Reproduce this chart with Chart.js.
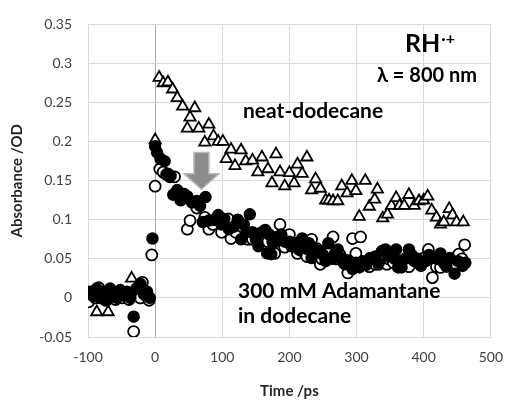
<!DOCTYPE html>
<html>
<head>
<meta charset="utf-8">
<script src="https://cdn.jsdelivr.net/npm/chart.js@4/dist/chart.umd.min.js"></script>
<style>
  html, body { margin: 0; padding: 0; background: #ffffff; }
  #wrap { width: 515px; height: 400px; }
</style>
</head>
<body>
<div id="wrap"><canvas id="c" width="515" height="400"></canvas></div>
<script>
// ---------- data ----------
// neat dodecane (open triangles)
const neatTime = [-87,-70,-55,-45,-35,-25,-14,0,
  6,12,19,26,33,41,48,52,59,65,74,80,87,94,101,106,113,119,128,135,145,153,159,168,174,180,186,193,200,207,212,219,226,233,239,246,254,259,265,272,278,286,293,299,304,313,319,327,331,339,346,352,359,364,371,378,386,393,400,406,412,419,425,430,438,443,449,459];
const neatAbs = [-0.018,-0.018,0.002,-0.002,0.025,0.003,0.011,0.202,
  0.282,0.275,0.276,0.267,0.256,0.245,0.217,0.231,0.243,0.217,0.199,0.222,0.207,0.2,0.2,0.178,0.19,0.169,0.189,0.175,0.176,0.161,0.18,0.165,0.147,0.184,0.161,0.143,0.16,0.147,0.171,0.159,0.18,0.138,0.152,0.14,0.125,0.125,0.124,0.124,0.143,0.134,0.15,0.137,0.104,0.15,0.117,0.126,0.139,0.102,0.107,0.118,0.128,0.118,0.118,0.132,0.118,0.124,0.125,0.13,0.112,0.103,0.094,0.097,0.114,0.106,0.097,0.097];

// 300 mM adamantane in dodecane, run 1 (filled circles)
const adaFilledTime = [-97,-92,-87,-82,-77,-72,-67,-62,-57,-52,-47,-42,-37,-32,-28,-22,-17,-12,-8,-4,
  0,3,8,14,19,23,27,33,38,43,48,55,62,67,71,75,80,88,94,99,103,110,117,123,128,132,136,141,145,150,154,159,164,167,170,173,176,181,188,193,200,203,208,214,219,225,229,233,238,242,246,250,254,258,264,268,272,275,280,283,288,294,299,304,309,314,320,323,328,333,338,343,348,352,357,359,362,367,372,378,382,386,391,396,403,408,414,420,425,430,434,439,446,451,458,462];
const adaFilledAbs = [0.008,0.002,0.012,0.0,0.008,-0.003,0.012,0.005,0.0,0.01,0.003,0.008,0.0,-0.024,0.012,0.018,0.005,0.008,0.0,0.076,
  0.194,0.186,0.178,0.175,0.159,0.156,0.132,0.138,0.125,0.133,0.13,0.122,0.124,0.118,0.097,0.129,0.099,0.1,0.106,0.094,0.101,0.088,0.091,0.1,0.075,0.094,0.084,0.107,0.084,0.075,0.066,0.084,0.087,0.057,0.081,0.056,0.07,0.078,0.081,0.072,0.072,0.066,0.07,0.062,0.076,0.063,0.07,0.051,0.062,0.06,0.06,0.055,0.047,0.07,0.05,0.057,0.062,0.051,0.05,0.043,0.048,0.037,0.045,0.039,0.047,0.042,0.051,0.05,0.053,0.045,0.06,0.062,0.053,0.057,0.05,0.062,0.039,0.039,0.05,0.062,0.055,0.047,0.05,0.041,0.047,0.055,0.052,0.05,0.057,0.045,0.04,0.051,0.031,0.047,0.041,0.045];

// 300 mM adamantane in dodecane, run 2 (open circles)
const adaOpenTime = [-99,-94,-89,-84,-79,-74,-69,-64,-59,-54,-49,-44,-39,-32,-27,-22,-19,-14,-9,-5,
  0,7,12,17,22,29,48,52,62,74,80,86,92,99,104,109,113,120,125,131,138,145,152,159,168,175,178,186,193,200,206,212,219,226,233,241,246,248,255,260,265,270,275,281,287,294,299,306,312,319,328,333,340,345,348,355,364,371,378,384,392,400,407,413,419,425,432,440,446,452,457,461];
const adaOpenAbs = [-0.005,0.005,0.0,0.013,0.002,-0.003,0.008,0.003,-0.002,0.004,0.0,0.005,-0.002,-0.043,0.004,0.0,0.02,0.003,-0.003,0.055,
  0.143,0.165,0.161,0.158,0.155,0.155,0.088,0.099,0.115,0.103,0.088,0.094,0.1,0.084,0.095,0.101,0.076,0.084,0.097,0.09,0.075,0.075,0.08,0.078,0.072,0.072,0.057,0.094,0.065,0.081,0.068,0.057,0.06,0.053,0.075,0.063,0.043,0.05,0.055,0.06,0.078,0.05,0.056,0.045,0.032,0.076,0.057,0.078,0.045,0.04,0.043,0.043,0.05,0.043,0.05,0.045,0.047,0.047,0.04,0.051,0.045,0.051,0.062,0.026,0.04,0.039,0.045,0.05,0.043,0.056,0.05,0.068];

// axis ticks
const xTickValues = [-100, 0, 100, 200, 300, 400, 500];
const xTickLabels = ['-100', '0', '100', '200', '300', '400', '500'];
const yTickValues = [-0.05, 0, 0.05, 0.1, 0.15, 0.2, 0.25, 0.3, 0.35];
const yTickLabels = ['-0.05', '0', '0.05', '0.1', '0.15', '0.2', '0.25', '0.3', '0.35'];

// texts
const xTitle = 'Time /ps';
const yTitle = 'Absorbance /OD';
const neatLabel = 'neat-dodecane';
const adaLabel1 = '300 mM Adamantane';
const adaLabel2 = 'in dodecane';
const speciesLabel = 'RH';
const speciesSup = '\u00B7+';
const wavelengthLabel = '\u03BB = 800 nm';

// ---------- chart ----------
const FONT = 'Lato, "Open Sans", sans-serif';
const pts = (t, a) => t.map((v, i) => ({ x: v, y: a[i] }));

const annot = {
  id: 'annot',
  afterDatasetsDraw(chart) {
    const { ctx, scales: { x, y } } = chart;
    ctx.save();
    // grey arrow
    const cx = x.getPixelForValue(69);
    const yTop = y.getPixelForValue(0.186);
    const yBase = y.getPixelForValue(0.159);
    const yTip = y.getPixelForValue(0.139);
    const sw = 7.5, hw = 17.5;
    ctx.beginPath();
    ctx.moveTo(cx - sw, yTop);
    ctx.lineTo(cx + sw, yTop);
    ctx.lineTo(cx + sw, yBase);
    ctx.lineTo(cx + hw, yBase);
    ctx.lineTo(cx, yTip);
    ctx.lineTo(cx - hw, yBase);
    ctx.lineTo(cx - sw, yBase);
    ctx.closePath();
    ctx.fillStyle = '#8c8c8c';
    ctx.fill();
    ctx.lineWidth = 1.5;
    ctx.strokeStyle = '#b8b8b8';
    ctx.stroke();

    // texts
    ctx.fillStyle = '#000000';
    ctx.textBaseline = 'alphabetic';
    ctx.textAlign = 'left';
    ctx.font = 'bold 21px ' + FONT;
    ctx.fillText(neatLabel, 243, 118);
    ctx.fillText(adaLabel1, 238, 298);
    ctx.fillText(adaLabel2, 238, 323);

    ctx.font = 'bold 25px ' + FONT;
    ctx.fillText(speciesLabel, 405, 52);
    const w = ctx.measureText(speciesLabel).width;
    ctx.font = 'bold 16px ' + FONT;
    ctx.fillText(speciesSup, 405 + w + 1, 44);

    ctx.font = 'bold 20px ' + FONT;
    ctx.fillText(wavelengthLabel, 377, 82);
    ctx.restore();
  }
};

new Chart(document.getElementById('c'), {
  type: 'scatter',
  data: {
    datasets: [
      {
        label: '300 mM adamantane (run 1)',
        data: pts(adaFilledTime, adaFilledAbs),
        pointStyle: 'circle',
        pointRadius: 5.5,
        pointBackgroundColor: '#000000',
        pointBorderColor: '#000000',
        pointBorderWidth: 1.5
      },
      {
        label: '300 mM adamantane (run 2)',
        data: pts(adaOpenTime, adaOpenAbs),
        pointStyle: 'circle',
        pointRadius: 5.5,
        pointBackgroundColor: '#ffffff',
        pointBorderColor: '#000000',
        pointBorderWidth: 1.8
      },
      {
        label: 'neat dodecane',
        data: pts(neatTime, neatAbs),
        pointStyle: 'triangle',
        pointRadius: 6.5,
        pointBackgroundColor: '#ffffff',
        pointBorderColor: '#000000',
        pointBorderWidth: 1.8
      }
    ]
  },
  options: {
    responsive: false,
    animation: false,
    events: [],
    layout: { padding: { top: 16, right: 13, left: 0, bottom: 0 } },
    plugins: { legend: { display: false }, tooltip: { enabled: false } },
    scales: {
      x: {
        type: 'linear',
        min: -100, max: 500,
        afterBuildTicks: (s) => { s.ticks = xTickValues.map(v => ({ value: v })); },
        afterFit: (s) => { s.height = 63; },
        ticks: {
          padding: 12,
          color: '#404040',
          font: { family: FONT, size: 14 },
          callback: (v) => { const i = xTickValues.indexOf(v); return i >= 0 ? xTickLabels[i] : ''; }
        },
        grid: {
          drawTicks: false,
          color: (c) => (c.tick && c.tick.value === 0) ? '#a6a6a6' : '#d9d9d9',
          lineWidth: 1
        },
        border: { display: false },
        title: {
          display: true, text: xTitle, color: '#262626',
          font: { family: FONT, size: 15, weight: 'bold' },
          padding: { top: 0, bottom: 0 }
        }
      },
      y: {
        type: 'linear',
        min: -0.05, max: 0.35,
        afterBuildTicks: (s) => { s.ticks = yTickValues.map(v => ({ value: v })); },
        afterFit: (s) => { s.width = 88; },
        ticks: {
          padding: 16,
          color: '#404040',
          font: { family: FONT, size: 14 },
          callback: (v) => {
            const i = yTickValues.findIndex(t => Math.abs(t - v) < 1e-9);
            return i >= 0 ? yTickLabels[i] : '';
          }
        },
        grid: { drawTicks: false, color: '#d9d9d9', lineWidth: 1 },
        border: { display: false },
        title: {
          display: true, text: yTitle, color: '#262626',
          font: { family: FONT, size: 15, weight: 'bold' },
          padding: { top: 8, bottom: 0 }
        }
      }
    }
  },
  plugins: [annot]
});
</script>
</body>
</html>
